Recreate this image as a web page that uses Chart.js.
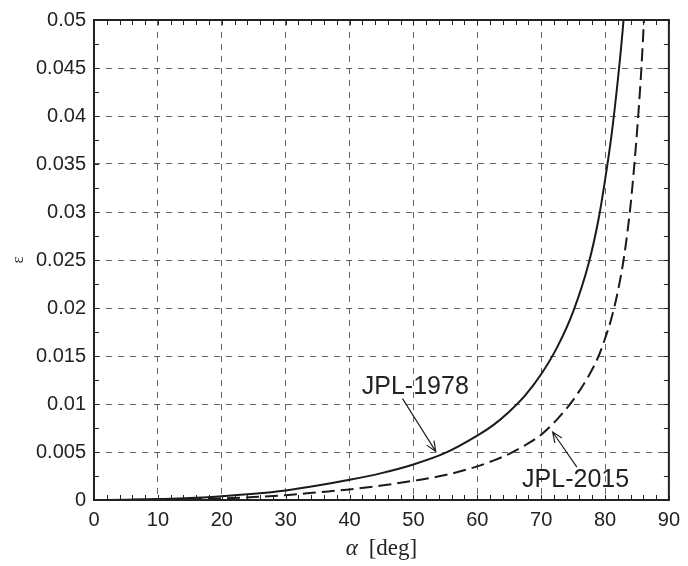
<!DOCTYPE html>
<html>
<head>
<meta charset="utf-8">
<script src="https://cdn.jsdelivr.net/npm/chart.js@4.4.0/dist/chart.umd.min.js"></script>
<style>
    html, body { margin: 0; padding: 0; background: #fff; }
    canvas { display: block; }
</style>
</head>
<body>
<canvas id="chart-canvas" width="688" height="566"></canvas>
<script>
// values
var seriesNames = ['JPL-1978', 'JPL-2015'];

var alpha1978 = [0, 5, 10, 15, 20, 25, 30, 35, 40, 45, 50, 55, 60, 62.5, 65, 67.5, 70, 72.5, 75, 77.5, 79, 80, 81, 82, 82.9, 83.5];
var eps1978   = [0, 0.00003, 0.0001, 0.0002, 0.0004, 0.00065, 0.0010, 0.0015, 0.0021, 0.0028, 0.0037, 0.0049, 0.0067, 0.0078, 0.0092, 0.0109, 0.0131, 0.0159, 0.0196, 0.0248, 0.0293, 0.0333, 0.0379, 0.0437, 0.050, 0.056];

var alpha2015 = [0, 5, 10, 15, 20, 25, 30, 35, 40, 45, 50, 55, 60, 62.5, 65, 67.5, 70, 72.5, 75, 77.5, 79, 80, 81, 82, 83, 84, 84.6, 85.2, 85.7, 86.1, 86.45];
var eps2015   = [0, 0.00001, 0.00004, 0.00008, 0.00015, 0.0003, 0.0005, 0.0008, 0.0011, 0.0015, 0.0020, 0.0026, 0.0035, 0.0041, 0.0048, 0.0057, 0.0068, 0.0084, 0.0104, 0.0130, 0.0150, 0.0168, 0.0189, 0.0217, 0.0254, 0.0307, 0.035, 0.040, 0.045, 0.050, 0.055];

var xTicks = [0, 10, 20, 30, 40, 50, 60, 70, 80, 90];
var yTicks = [0, 0.005, 0.01, 0.015, 0.02, 0.025, 0.03, 0.035, 0.04, 0.045, 0.05];
var yTickLabels = ['0', '0.005', '0.01', '0.015', '0.02', '0.025', '0.03', '0.035', '0.04', '0.045', '0.05'];

// labels with arrows, anchored in data units
var notes = [
    {text: seriesNames[0], at: [50.3, 0.0118], from: [48.3, 0.01056], to: [53.5, 0.00506]},
    {text: seriesNames[1], at: [75.4, 0.00205], from: [75.6, 0.00342], to: [71.8, 0.00708]}
];

function toPoints(xs, ys) {
    return xs.map(function (v, i) { return {x: v, y: ys[i]}; });
}

var sansFont = "'Liberation Sans', Arial, sans-serif";
var serifFont = "'Liberation Serif', 'Times New Roman', serif";

var boxPlugin = {
    id: 'box',
    afterDatasetsDraw: function (chart) {
        var ctx = chart.ctx;
        var a = chart.chartArea;
        var x = chart.scales.x, y = chart.scales.y;
        ctx.save();

        // inward ticks on all four sides
        ctx.strokeStyle = '#222';
        ctx.lineWidth = 1;
        ctx.beginPath();
        for (var v = 0; v <= 90; v += 2) {
            var px = Math.round(x.getPixelForValue(v)) + 0.5;
            ctx.moveTo(px, a.bottom); ctx.lineTo(px, a.bottom - 5);
            ctx.moveTo(px, a.top); ctx.lineTo(px, a.top + 5);
        }
        for (var i = 0; i <= 20; i++) {
            var py = Math.round(y.getPixelForValue(i * 0.0025)) + 0.5;
            ctx.moveTo(a.left, py); ctx.lineTo(a.left + 5, py);
            ctx.moveTo(a.right, py); ctx.lineTo(a.right - 5, py);
        }
        ctx.stroke();

        ctx.lineWidth = 2;
        ctx.strokeRect(a.left, a.top, a.right - a.left, a.bottom - a.top);

        // annotations
        ctx.fillStyle = '#222';
        ctx.font = '25px ' + sansFont;
        ctx.textAlign = 'center';
        ctx.textBaseline = 'middle';
        ctx.lineWidth = 1.2;
        notes.forEach(function (n) {
            ctx.fillText(n.text, x.getPixelForValue(n.at[0]), y.getPixelForValue(n.at[1]));
            var x0 = x.getPixelForValue(n.from[0]), y0 = y.getPixelForValue(n.from[1]);
            var x1 = x.getPixelForValue(n.to[0]), y1 = y.getPixelForValue(n.to[1]);
            var ang = Math.atan2(y1 - y0, x1 - x0);
            var head = 11, spread = 0.4;
            ctx.beginPath();
            ctx.moveTo(x0, y0);
            ctx.lineTo(x1, y1);
            ctx.moveTo(x1 - head * Math.cos(ang - spread), y1 - head * Math.sin(ang - spread));
            ctx.lineTo(x1, y1);
            ctx.lineTo(x1 - head * Math.cos(ang + spread), y1 - head * Math.sin(ang + spread));
            ctx.stroke();
        });

        // x title: italic alpha + upright [deg]
        ctx.textAlign = 'left';
        ctx.textBaseline = 'alphabetic';
        var cx = (a.left + a.right) / 2;
        ctx.font = 'italic 23px ' + serifFont;
        var wA = ctx.measureText('α').width;
        ctx.font = '23px ' + serifFont;
        var wD = ctx.measureText('[deg]').width;
        var gap = 11;
        var start = cx - (wA + gap + wD) / 2;
        ctx.font = 'italic 23px ' + serifFont;
        ctx.fillText('α', start, 555);
        ctx.font = '23px ' + serifFont;
        ctx.fillText('[deg]', start + wA + gap, 555);

        ctx.restore();
    }
};

var chartCanvas = document.getElementById('chart-canvas');

new Chart(chartCanvas, {
    type: 'line',
    data: {
        datasets: [{
            label: seriesNames[0],
            data: toPoints(alpha1978, eps1978),
            borderColor: '#1a1a1a',
            borderWidth: 2,
            pointRadius: 0,
            cubicInterpolationMode: 'monotone'
        }, {
            label: seriesNames[1],
            data: toPoints(alpha2015, eps2015),
            borderColor: '#1a1a1a',
            borderWidth: 2,
            borderDash: [13, 6],
            pointRadius: 0,
            cubicInterpolationMode: 'monotone'
        }]
    },
    options: {
        responsive: false,
        animation: false,
        devicePixelRatio: 1,
        layout: {padding: {top: 12, right: 13, left: 0, bottom: 0}},
        plugins: {legend: {display: false}, tooltip: {enabled: false}},
        scales: {
            x: {
                type: 'linear',
                min: 0,
                max: 90,
                afterFit: function (scale) { scale.height = 66; },
                afterBuildTicks: function (scale) {
                    scale.ticks = xTicks.map(function (v) { return {value: v}; });
                },
                ticks: {
                    color: '#222',
                    padding: 8,
                    maxRotation: 0,
                    font: {family: sansFont, size: 20},
                    callback: function (v) { return String(v); }
                },
                grid: {color: '#666', lineWidth: 1, drawTicks: false},
                border: {display: false, dash: [6, 6]}
            },
            y: {
                type: 'linear',
                min: 0,
                max: 0.05,
                afterFit: function (scale) { scale.width = 94; },
                afterBuildTicks: function (scale) {
                    scale.ticks = yTicks.map(function (v) { return {value: v}; });
                },
                ticks: {
                    color: '#222',
                    padding: 8,
                    font: {family: sansFont, size: 20},
                    callback: function (v, i) { return yTickLabels[i]; }
                },
                grid: {color: '#666', lineWidth: 1, drawTicks: false},
                border: {display: false, dash: [6, 6]},
                title: {
                    display: true,
                    text: 'ε',
                    color: '#333',
                    padding: {top: 8, bottom: 0},
                    font: {family: serifFont, size: 17}
                }
            }
        }
    },
    plugins: [boxPlugin]
});
</script>
</body>
</html>
